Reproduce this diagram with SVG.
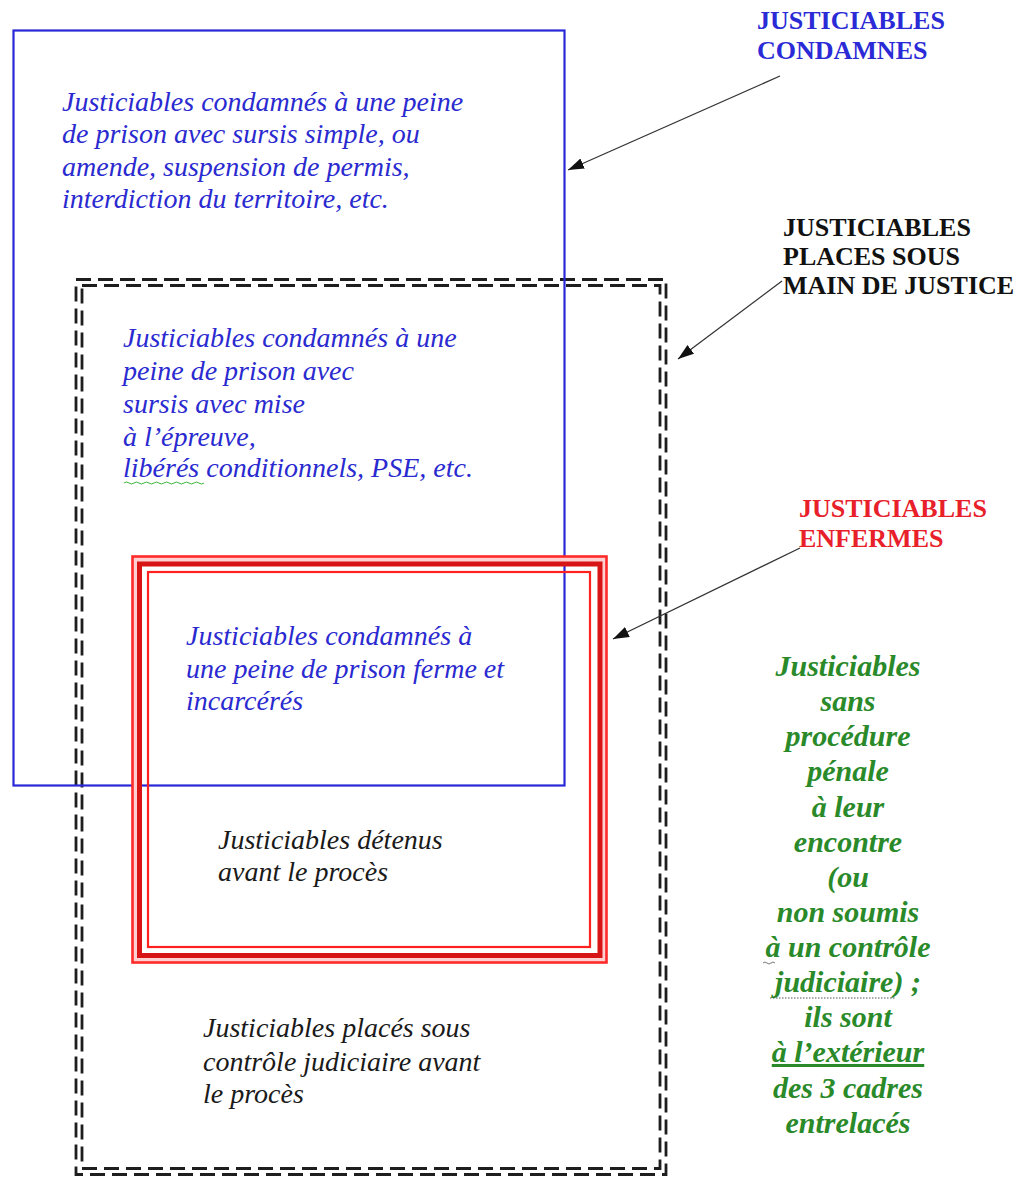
<svg xmlns="http://www.w3.org/2000/svg" width="1024" height="1177" viewBox="0 0 1024 1177">
<defs>
<style>
.it{font-family:"Liberation Serif","Times New Roman",serif;font-style:italic;font-size:28px}
.blue{fill:#2a2ad0}
.blk{fill:#1a1a1a}
.lbl{font-family:"Liberation Serif","Times New Roman",serif;font-weight:bold;font-size:26px}
.grn{font-family:"Liberation Serif","Times New Roman",serif;font-weight:bold;font-style:italic;font-size:30px;fill:#2a8a2a;text-anchor:middle}
.dash{fill:none;stroke:#1e1e1e;stroke-width:2.8;stroke-dasharray:15 7}
.conn{stroke:#333;stroke-width:1.3;fill:none;marker-end:url(#ah)}
</style>
<marker id="ah" markerUnits="userSpaceOnUse" markerWidth="17" markerHeight="12" refX="16" refY="5.5" orient="auto">
<path d="M0,0 L16,5.5 L0,11 z" fill="#111"/>
</marker>
</defs>
<rect width="1024" height="1177" fill="#fff"/>

<g id="cadre-main-justice">
<rect class="dash" x="76" y="279.5" width="590" height="895"/>
<rect class="dash" x="82" y="285.5" width="578" height="883"/>
</g>

<g id="cadre-condamnes">
<rect x="13.5" y="30.5" width="551" height="755" fill="none" stroke="#2828d8" stroke-width="2.2"/>
</g>

<g id="cadre-enfermes">
<rect x="135.5" y="559.5" width="468" height="400" fill="none" stroke="#ffd0d0" stroke-width="7"/>
<rect x="132.5" y="556.5" width="474" height="406" fill="none" stroke="#ff2a2a" stroke-width="2.6"/>
<rect x="139.5" y="564" width="460.5" height="391.5" fill="none" stroke="#d81515" stroke-width="5"/>
<rect x="148" y="572" width="442" height="375" fill="none" stroke="#ff2020" stroke-width="2.2"/>
</g>

<g id="texte-condamnes" class="it blue">
<text x="62" y="111">Justiciables condamnés à une peine</text>
<text x="62" y="143">de prison avec sursis simple, ou</text>
<text x="62" y="176">amende, suspension de permis,</text>
<text x="62" y="208">interdiction du territoire, etc.</text>
</g>

<g id="texte-sme" class="it blue">
<text x="123" y="347">Justiciables condamnés à une</text>
<text x="123" y="380">peine de prison avec</text>
<text x="123" y="413">sursis avec mise</text>
<text x="123" y="446">à l’épreuve,</text>
<text x="123" y="477">libérés conditionnels, PSE, etc.</text>
<path d="M124,483 q2.5,-2 5,0 t5,0 t5,0 t5,0 t5,0 t5,0 t5,0 t5,0 t5,0 t5,0 t5,0 t5,0 t5,0 t5,0 t5,0 t5,0" fill="none" stroke="#3cb43c" stroke-width="1"/>
</g>

<g id="texte-incarceres" class="it blue">
<text x="186" y="645">Justiciables condamnés à</text>
<text x="186" y="678">une peine de prison ferme et</text>
<text x="186" y="710">incarcérés</text>
</g>

<g id="texte-detenus" class="it blk">
<text x="218" y="849">Justiciables détenus</text>
<text x="218" y="881">avant le procès</text>
</g>

<g id="texte-controle" class="it blk">
<text x="203" y="1037">Justiciables placés sous</text>
<text x="203" y="1071">contrôle judiciaire avant</text>
<text x="203" y="1103">le procès</text>
</g>

<g id="label-condamnes" class="lbl" fill="#2a2ad6">
<text x="757" y="29">JUSTICIABLES</text>
<text x="757" y="59">CONDAMNES</text>
</g>

<g id="label-main-justice" class="lbl" fill="#111">
<text x="783" y="236">JUSTICIABLES</text>
<text x="783" y="265">PLACES SOUS</text>
<text x="783" y="294">MAIN DE JUSTICE</text>
</g>

<g id="label-enfermes" class="lbl" fill="#e8202a">
<text x="799" y="517">JUSTICIABLES</text>
<text x="799" y="547">ENFERMES</text>
</g>

<g id="texte-exterieur" class="grn">
<text x="848" y="676">Justiciables</text>
<text x="848" y="711">sans</text>
<text x="848" y="746">procédure</text>
<text x="848" y="781">pénale</text>
<text x="848" y="817">à leur</text>
<text x="848" y="852">encontre</text>
<text x="848" y="887">(ou</text>
<text x="848" y="922">non soumis</text>
<text x="848" y="957">à un contrôle</text>
<text x="848" y="992">judiciaire) ;</text>
<text x="848" y="1027">ils sont</text>
<text x="848" y="1062" text-decoration="underline">à l’extérieur</text>
<text x="848" y="1098">des 3 cadres</text>
<text x="848" y="1133">entrelacés</text>
<path d="M763,963 q2,-2 4,0 t4,0 t4,0" fill="none" stroke="#777" stroke-width="1"/>
<path d="M770,998 H895" fill="none" stroke="#555" stroke-width="1" stroke-dasharray="1.5 1.5"/>
</g>

<g id="connecteurs">
<line class="conn" x1="780" y1="76" x2="568" y2="170"/>
<line class="conn" x1="782" y1="281" x2="678" y2="359"/>
<line class="conn" x1="800" y1="548" x2="613" y2="639"/>
</g>
</svg>
